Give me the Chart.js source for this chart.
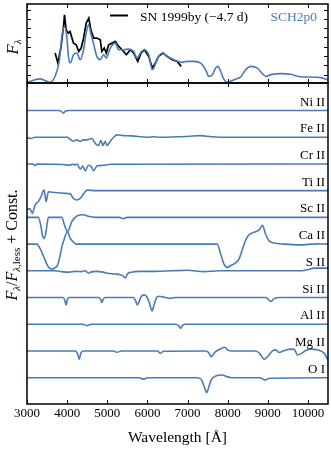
<!DOCTYPE html>
<html>
<head>
<meta charset="utf-8">
<script src="https://cdn.jsdelivr.net/npm/chart.js@4.4.1/dist/chart.umd.min.js"></script>
<style>
  html, body { margin: 0; padding: 0; background: #fff; }
  #wrap { position: relative; width: 331px; height: 450px; overflow: hidden; }
  canvas { position: absolute; left: 0; }
  #top { top: 0; }
  #bottom { top: 80px; }
</style>
</head>
<body>
<div id="wrap">
  <canvas id="bottom" width="331" height="370"></canvas>
  <canvas id="top" width="331" height="86"></canvas>
</div>
<script>
const BLUE = '#4a7bb7'
const SERIF = '"Liberation Serif", "DejaVu Serif", serif'

const xTicks = [3000, 4000, 5000, 6000, 7000, 8000, 9000, 10000]
const topYTicks = [1, 2, 3, 4, 5, 6, 7, 8]

// top panel: model (SCH2p0) and observed SN 1999by, [wavelength, F_lambda]
const modelFlux = [
  [3000, 0.18], [3325, 0.54], [3575, 0.18], [3700, 0.82], [3810, 2.61], [3870, 5.11],
  [3935, 6.18], [3990, 5.11], [4033, 2.96], [4075, 2.25], [4160, 3.14], [4240, 3.32],
  [4325, 2.61], [4410, 3.68], [4475, 5.46], [4533, 6.36], [4590, 5.46], [4675, 4.04],
  [4740, 2.96], [4825, 2.61], [4910, 3.14], [4975, 2.79], [5075, 3.86], [5200, 4.39],
  [5285, 3.68], [5410, 3.68], [5530, 3.75], [5660, 3.5], [5740, 2.79], [5825, 3.32],
  [5910, 3.68], [6035, 3.14], [6120, 1.54], [6160, 1.71], [6240, 2.61], [6370, 3.32],
  [6450, 3.14], [6575, 2.79], [6740, 2.43], [6870, 2.32], [6990, 2.43], [7160, 2.43],
  [7325, 2.25], [7450, 1.54], [7530, 0.82], [7620, 1.0], [7700, 1.71], [7760, 1.89],
  [7825, 1.36], [7910, 0.46], [7990, 0.18], [8160, 0.46], [8325, 0.75], [8450, 1.54],
  [8575, 1.89], [8740, 1.71], [8865, 1.11], [8950, 0.82], [9075, 1.0], [9325, 1.11],
  [9575, 1.04], [9740, 0.82], [9910, 0.75], [10075, 0.75], [10325, 0.68], [10490, 0.46]
]
const obsFlux = [
  [3700, 3.32], [3770, 2.25], [3850, 4.04], [3910, 6.18], [3935, 7.43], [3975, 5.82],
  [4030, 5.46], [4075, 5.64], [4120, 4.93], [4160, 4.39], [4225, 4.21], [4290, 3.5],
  [4350, 3.86], [4410, 4.93], [4475, 6.54], [4540, 7.07], [4590, 5.82], [4660, 4.93],
  [4740, 4.93], [4825, 4.75], [4865, 3.5], [4925, 3.86], [4975, 3.32], [5035, 4.21],
  [5120, 4.39], [5200, 4.57], [5285, 4.04], [5370, 3.68], [5475, 3.14], [5575, 3.68],
  [5660, 3.32], [5760, 2.43], [5840, 3.32], [5925, 3.68], [6035, 2.96], [6120, 1.71],
  [6200, 2.25], [6280, 2.96], [6390, 3.32], [6490, 2.96], [6620, 2.61], [6740, 2.43],
  [6840, 1.89]
]

// bottom panel: F_lambda / F_lambda,less minus 1, [wavelength, value]
const oI = [[3000, 0], [5800, 0], [5900, -0.06], [6000, 0], [7250, 0], [7350, -0.08], [7420, -0.35],
  [7475, -0.56], [7530, -0.35], [7600, -0.05], [7700, 0.06], [7870, 0.1], [7990, 0.03], [8100, 0],
  [8800, 0], [8930, -0.09], [9050, -0.02], [10500, 0]]
const mgII = [[3000, 0], [4200, 0], [4260, -0.1], [4300, -0.31], [4350, -0.05], [4420, 0], [5150, 0],
  [5240, -0.05], [5350, 0], [6250, 0], [6325, -0.09], [6400, -0.01], [7450, 0], [7520, -0.05],
  [7592, -0.21], [7680, -0.05], [7825, 0.08], [7925, 0.14], [8000, 0.04], [8100, 0], [8700, 0],
  [8800, -0.1], [8908, -0.31], [9000, -0.2], [9117, 0], [9200, 0.04], [9283, -0.06], [9400, 0.01],
  [9575, 0.07], [9658, 0.06], [9742, -0.15], [9850, -0.08], [9950, 0.02], [10075, 0.07],
  [10250, 0.04], [10408, -0.09], [10500, -0.35]]
const alII = [[3000, 0], [4400, 0], [4490, -0.05], [4600, 0], [6700, 0], [6780, -0.05], [6825, -0.15],
  [6880, -0.03], [6950, 0], [10500, 0]]
const siII = [[3000, 0], [3900, 0], [3940, -0.1], [3975, -0.28], [4010, -0.05], [4060, 0], [4780, 0],
  [4830, -0.05], [4867, -0.19], [4900, -0.06], [4960, 0], [5650, 0], [5700, -0.1], [5750, -0.28],
  [5800, -0.12], [5850, 0.05], [5920, 0.1], [5990, 0.02], [6050, -0.2], [6117, -0.5], [6170, -0.25],
  [6230, 0], [6290, 0.05], [6400, 0.02], [6550, -0.03], [6700, 0], [8950, 0], [9000, -0.05],
  [9075, -0.15], [9150, -0.05], [9300, 0], [10500, 0]]
const sII = [[3000, 0], [3700, 0], [3850, -0.03], [4050, -0.05], [4200, -0.02], [4350, -0.03],
  [4450, 0], [4533, -0.09], [4600, -0.04], [4750, -0.02], [4900, -0.05], [5000, -0.09],
  [5200, -0.12], [5325, -0.15], [5400, -0.2], [5450, -0.27], [5500, -0.12], [5600, -0.05],
  [5800, -0.02], [6200, -0.02], [6600, 0], [7000, 0.02], [7400, -0.03], [7800, 0], [9800, 0],
  [9950, 0.03], [10160, 0.1], [10500, 0.1]]
const caII = [[3000, 0], [3250, 0], [3300, -0.1], [3370, -0.3], [3450, -0.6], [3530, -0.85],
  [3620, -0.94], [3700, -0.88], [3750, -0.82], [3790, -0.65], [3830, -0.4], [3870, -0.1],
  [3920, 0.15], [4010, 0.47], [4075, 0.22], [4160, 0.07], [4220, 0], [7740, 0], [7825, -0.37],
  [7908, -0.75], [7992, -0.87], [8075, -0.8], [8200, -0.7], [8283, -0.56], [8367, -0.2],
  [8450, 0.16], [8533, 0.35], [8658, 0.44], [8783, 0.53], [8867, 0.7], [8950, 0.35], [9033, 0.12],
  [9158, 0.04], [9408, 0], [9800, -0.03], [10200, 0.01], [10500, 0]]
const scII = [[3000, 0], [3283, 0], [3350, -0.35], [3383, -0.66], [3425, -0.79], [3467, -0.6],
  [3500, -0.26], [3533, 0], [3867, 0], [3933, -0.28], [4010, -0.53], [4117, -0.16], [4242, 0.05],
  [4400, 0.1], [4550, 0.03], [4700, 0], [5300, 0], [5400, -0.05], [5500, 0], [10500, 0]]
const tiII = [[3000, -0.7], [3075, -0.68], [3133, -0.85], [3200, -0.54], [3283, -0.41],
  [3350, -0.22], [3425, 0.03], [3475, -0.41], [3533, -0.04], [3700, -0.07], [3950, -0.1],
  [4075, -0.12], [4158, -0.29], [4243, -0.35], [4325, -0.29], [4433, -0.07], [4500, 0.02],
  [4700, 0], [10500, 0]]
const crII = [[3000, 0], [3150, 0], [3200, -0.06], [3250, 0], [3900, -0.02], [4075, -0.05],
  [4130, 0], [4200, -0.04], [4250, 0], [4325, -0.19], [4390, -0.08], [4450, -0.25], [4533, -0.05],
  [4600, -0.1], [4658, -0.25], [4750, -0.07], [4900, -0.05], [5000, -0.03], [5100, -0.01],
  [10500, 0]]
const feII = [[3000, 0], [3100, -0.05], [3200, 0], [4000, 0], [4075, -0.08], [4158, -0.14],
  [4240, -0.1], [4325, -0.16], [4400, -0.1], [4492, -0.1], [4617, -0.05], [4700, -0.23],
  [4783, -0.31], [4842, -0.12], [4892, -0.31], [4950, -0.15], [4992, -0.31], [5075, -0.15],
  [5158, 0], [5242, 0.09], [5400, 0.06], [5600, 0.05], [6000, 0], [6150, 0.02], [6300, 0],
  [7000, 0.03], [7325, 0.06], [7600, 0.02], [8000, 0], [10500, 0]]
const niII = [[3000, 0], [3800, 0], [3860, -0.04], [3910, -0.1], [3960, -0.02], [4050, 0],
  [10500, 0]]

// stacked from bottom (offset 0) to top (offset 10)
const ionNames = ['O I', 'Mg II', 'Al II', 'Si II', 'S II', 'Ca II', 'Sc II', 'Ti II', 'Cr II', 'Fe II', 'Ni II']
const ionData = [oI, mgII, alII, siII, sII, caII, scII, tiII, crII, feII, niII]

function strokeLine(ctx, x1, y1, x2, y2) {
  ctx.beginPath()
  ctx.moveTo(x1, y1)
  ctx.lineTo(x2, y2)
  ctx.stroke()
}

// draw a run of text pieces (italic / subscript), centred at cx, cy, rotated
function drawRich(ctx, parts, cx, cy, angle, base) {
  ctx.save()
  ctx.translate(cx, cy)
  ctx.rotate(angle)
  ctx.fillStyle = '#000'
  ctx.textBaseline = 'alphabetic'
  ctx.textAlign = 'left'
  let w = 0
  parts.forEach(p => {
    ctx.font = (p.italic ? 'italic ' : '') + p.size + 'px ' + SERIF
    p.w = ctx.measureText(p.t).width
    w += p.w
  })
  let x = -w / 2
  parts.forEach(p => {
    ctx.font = (p.italic ? 'italic ' : '') + p.size + 'px ' + SERIF
    ctx.fillText(p.t, x, base + (p.sub ? 3.5 : 0))
    x += p.w
  })
  ctx.restore()
}

const frame = {
  id: 'frame',
  afterDraw(chart, args, opts) {
    const { ctx, chartArea: a, scales } = chart
    ctx.save()
    ctx.strokeStyle = '#000'
    ctx.lineWidth = 1
    xTicks.forEach(v => {
      const px = Math.round(scales.x.getPixelForValue(v)) + 0.5
      strokeLine(ctx, px, a.bottom, px, a.bottom - 4)
      strokeLine(ctx, px, a.top, px, a.top + 4)
    })
    if (opts.yTicks) {
      opts.yTicks.forEach(v => {
        const py = Math.round(scales.y.getPixelForValue(v)) + 0.5
        strokeLine(ctx, a.left, py, a.left + 4, py)
        strokeLine(ctx, a.right, py, a.right - 4, py)
      })
    }
    ctx.lineWidth = 1.5
    ctx.strokeRect(a.left, a.top, a.right - a.left, a.bottom - a.top)
    ctx.restore()
  }
}

const topDecor = {
  id: 'topDecor',
  afterDraw(chart) {
    const { ctx } = chart
    ctx.save()
    ctx.strokeStyle = '#000'
    ctx.lineWidth = 2
    strokeLine(ctx, 110, 15.5, 128, 15.5)
    ctx.font = '13.5px ' + SERIF
    ctx.textBaseline = 'alphabetic'
    ctx.fillStyle = '#000'
    ctx.textAlign = 'left'
    ctx.fillText('SN 1999by (\u22124.7 d)', 140, 20.5)
    ctx.fillStyle = BLUE
    ctx.textAlign = 'right'
    ctx.fillText('SCH2p0', 317, 20.5)
    ctx.restore()
    drawRich(ctx, [
      { t: 'F', italic: true, size: 16.5 },
      { t: '\u03bb', italic: true, size: 11, sub: true }
    ], 12, 47, -Math.PI / 2, 5.5)
  }
}

const bottomDecor = {
  id: 'bottomDecor',
  afterDraw(chart) {
    const { ctx, chartArea: a, scales } = chart
    ctx.save()
    ctx.font = '13px ' + SERIF
    ctx.fillStyle = '#000'
    ctx.textAlign = 'right'
    ctx.textBaseline = 'alphabetic'
    ionNames.forEach((name, i) => {
      ctx.fillText(name, a.right - 3, scales.y.getPixelForValue(i) - 5)
    })
    ctx.restore()
    drawRich(ctx, [
      { t: 'F', italic: true, size: 16 },
      { t: '\u03bb', italic: true, size: 11, sub: true },
      { t: '/', size: 16 },
      { t: 'F', italic: true, size: 16 },
      { t: '\u03bb', italic: true, size: 11, sub: true },
      { t: ',less', size: 11, sub: true },
      { t: ' + Const.', size: 16 }
    ], 11, 245 - 80, -Math.PI / 2, 5.5)
  }
}

new Chart(document.getElementById('top'), {
  type: 'line',
  data: {
    datasets: [
      {
        data: modelFlux.map(([x, y]) => ({ x, y })),
        borderColor: BLUE, borderWidth: 1.6, pointRadius: 0,
        cubicInterpolationMode: 'monotone'
      },
      {
        data: obsFlux.map(([x, y]) => ({ x, y })),
        borderColor: '#000', borderWidth: 1.7, pointRadius: 0, tension: 0
      }
    ]
  },
  options: {
    responsive: false,
    animation: false,
    layout: { padding: { left: 27, right: 3, top: 4, bottom: 3 } },
    scales: {
      x: { type: 'linear', min: 3000, max: 10500, display: false },
      y: { type: 'linear', min: 0.1, max: 8.6, display: false }
    },
    plugins: {
      legend: { display: false },
      tooltip: { enabled: false },
      frame: { yTicks: topYTicks }
    }
  },
  plugins: [frame, topDecor]
})

new Chart(document.getElementById('bottom'), {
  type: 'line',
  data: {
    datasets: ionData.map((pts, i) => ({
      label: ionNames[i],
      data: pts.map(([x, y]) => ({ x, y: y + i })),
      borderColor: BLUE, borderWidth: 1.6, pointRadius: 0,
      cubicInterpolationMode: 'monotone'
    }))
  },
  options: {
    responsive: false,
    animation: false,
    layout: { padding: { left: 27, right: 3, top: 3, bottom: 0 } },
    scales: {
      x: {
        type: 'linear', min: 3000, max: 10500,
        grid: { display: false, drawTicks: false },
        border: { display: false },
        afterBuildTicks: scale => { scale.ticks = xTicks.map(value => ({ value })) },
        afterFit: scale => { scale.height = 46 },
        ticks: {
          color: '#000', padding: 2, maxRotation: 0,
          font: { family: SERIF, size: 13 },
          callback: v => String(v)
        },
        title: {
          display: true, text: 'Wavelength [\u00c5]', color: '#000',
          font: { family: SERIF, size: 15.5 },
          padding: { top: 0, bottom: 3 }
        }
      },
      y: { type: 'linear', min: -0.985, max: 11.03, display: false }
    },
    plugins: {
      legend: { display: false },
      tooltip: { enabled: false },
      frame: {}
    }
  },
  plugins: [frame, bottomDecor]
})
</script>
</body>
</html>
